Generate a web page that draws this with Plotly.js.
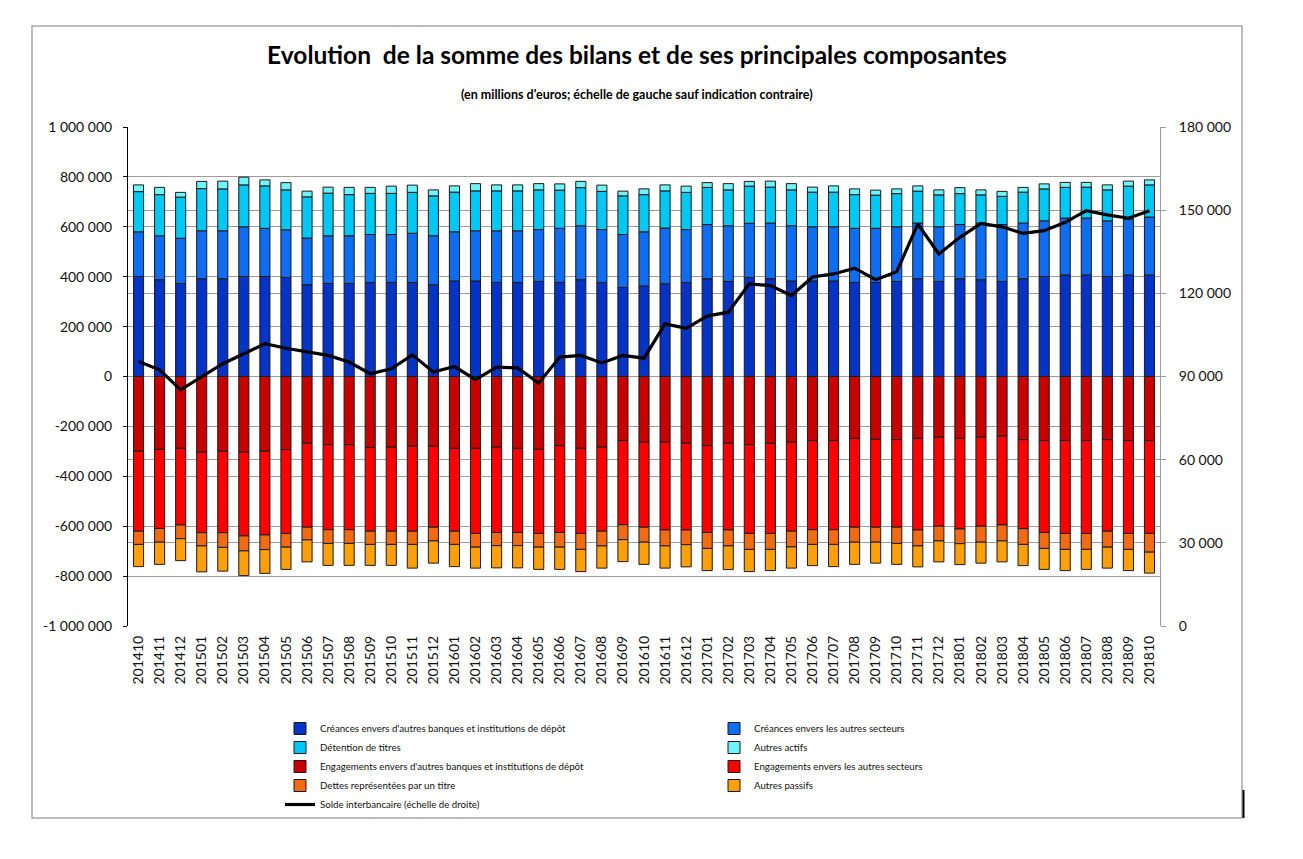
<!DOCTYPE html>
<html>
<head>
<meta charset="utf-8">
<script src="https://cdn.plot.ly/plotly-3.0.1.min.js"></script>
<style>
html,body{margin:0;padding:0;background:#fff;}
#chart{width:1303px;height:859px;}
</style>
</head>
<body>
<div id="chart"></div>
<script>
// ---- Data (millions d'euros) ----
var categories = ["201410","201411","201412","201501","201502","201503","201504","201505","201506","201507","201508","201509","201510","201511","201512","201601","201602","201603","201604","201605","201606","201607","201608","201609","201610","201611","201612","201701","201702","201703","201704","201705","201706","201707","201708","201709","201710","201711","201712","201801","201802","201803","201804","201805","201806","201807","201808","201809","201810"];

var creancesBanques = [401000,388000,373000,392000,392000,401000,401000,397000,368000,373000,373000,377000,377000,377000,368000,383000,383000,377000,377000,381000,377000,388000,377000,357000,363000,372000,377000,392000,381000,397000,392000,383000,383000,383000,377000,377000,381000,392000,381000,392000,388000,381000,392000,401000,407000,407000,401000,407000,407000];
var creancesAutres = [179000,176000,181000,192000,192000,199000,193000,191000,187000,191000,191000,192000,192000,197000,196000,197000,201000,207000,207000,208000,217000,216000,212000,212000,217000,223000,212000,217000,223000,217000,223000,221000,217000,217000,217000,217000,219000,223000,219000,217000,227000,228000,223000,223000,228000,228000,223000,223000,232000];
var detentionTitres = [161000,165000,165000,169000,168000,168000,170000,160000,165000,171000,165000,165000,165000,164000,160000,159000,160000,160000,160000,159000,153000,153000,153000,155000,149000,149000,149000,149000,144000,149000,144000,144000,139000,139000,135000,133000,133000,128000,128000,124000,113000,113000,124000,128000,123000,124000,124000,133000,129000];
var autresActifs = [27000,29000,19000,29000,31000,31000,24000,29000,23000,24000,29000,24000,29000,29000,24000,25000,29000,24000,24000,25000,25000,25000,25000,19000,23000,24000,25000,19000,25000,19000,24000,25000,20000,25000,23000,20000,19000,21000,20000,24000,20000,20000,19000,20000,20000,19000,20000,20000,20000];

var engagementsBanques = [-299000,-292000,-288000,-303000,-299000,-303000,-299000,-293000,-267000,-273000,-273000,-284000,-283000,-279000,-279000,-288000,-288000,-283000,-288000,-292000,-277000,-288000,-283000,-257000,-263000,-263000,-267000,-277000,-267000,-273000,-268000,-263000,-257000,-257000,-248000,-252000,-253000,-248000,-243000,-248000,-243000,-239000,-253000,-257000,-257000,-257000,-253000,-257000,-257000];
var engagementsAutres = [-321000,-317000,-307000,-323000,-327000,-336000,-336000,-336000,-337000,-341000,-341000,-336000,-337000,-341000,-325000,-332000,-341000,-342000,-337000,-337000,-348000,-341000,-337000,-337000,-341000,-352000,-348000,-348000,-348000,-356000,-361000,-357000,-357000,-357000,-356000,-352000,-351000,-367000,-357000,-363000,-357000,-356000,-357000,-368000,-372000,-372000,-367000,-372000,-372000];
var dettesTitre = [-53000,-55000,-55000,-53000,-59000,-60000,-59000,-55000,-51000,-55000,-55000,-53000,-53000,-53000,-55000,-53000,-55000,-53000,-53000,-55000,-59000,-64000,-59000,-60000,-60000,-64000,-59000,-64000,-64000,-64000,-64000,-63000,-59000,-59000,-60000,-60000,-65000,-64000,-59000,-59000,-64000,-64000,-63000,-64000,-64000,-64000,-64000,-64000,-75000];
var autresPassifs = [-89000,-89000,-88000,-104000,-95000,-99000,-95000,-89000,-88000,-88000,-88000,-84000,-84000,-95000,-89000,-89000,-84000,-89000,-89000,-89000,-89000,-89000,-89000,-88000,-89000,-89000,-89000,-89000,-95000,-89000,-85000,-85000,-85000,-89000,-89000,-84000,-84000,-84000,-84000,-84000,-84000,-84000,-85000,-84000,-85000,-80000,-84000,-85000,-84000];

var soldeInterbancaire = [95400,92400,85200,89800,94600,98200,101800,100200,99000,97600,95200,91000,92800,97800,91600,93600,88900,93400,93100,87600,97000,97600,94900,97600,96600,109000,107400,111800,113200,123400,122800,119200,125900,127000,129100,124900,127800,145000,134200,140200,145200,144000,141600,142600,145600,149800,148300,147100,149800];

var leftTickVals = [-1000000,-800000,-600000,-400000,-200000,0,200000,400000,600000,800000,1000000];
var leftTickText = ["-1 000 000","-800 000","-600 000","-400 000","-200 000","0","200 000","400 000","600 000","800 000","1 000 000"];
var rightTickVals = [0,30000,60000,90000,120000,150000,180000];
var rightTickText = ["0","30 000","60 000","90 000","120 000","150 000","180 000"];

var seriesNames = [
  "Créances envers d'autres banques et institutions de dépôt",
  "Créances envers les autres secteurs",
  "Détention de titres",
  "Autres actifs",
  "Engagements envers d'autres banques et institutions de dépôt",
  "Engagements envers les autres secteurs",
  "Dettes représentées par un titre",
  "Autres passifs",
  "Solde interbancaire (échelle de droite)"
];
var seriesColors = ["#0433c6","#0f6df2","#00c8f5","#6ff4fb","#c80000","#ff0000","#f26b12","#ffa00a","#000000"];

// ---- Traces ----
var barSeries = [creancesBanques, creancesAutres, detentionTitres, autresActifs,
                 engagementsBanques, engagementsAutres, dettesTitre, autresPassifs];
var traces = barSeries.map(function(vals, i){
  return {
    type: "bar",
    name: seriesNames[i],
    x: categories,
    y: vals,
    marker: {color: seriesColors[i], line: {color: "#1a1a1a", width: 1}},
    hoverinfo: "x+y+name"
  };
});
traces.push({
  type: "scatter",
  mode: "lines",
  name: seriesNames[8],
  x: categories,
  y: soldeInterbancaire,
  yaxis: "y2",
  line: {color: "#000000", width: 3.2}
});

// helpers to place frame in paper coordinates
var L = 128, R = 1160, T = 127, B = 626;
function px(x){ return (x - L) / (R - L); }
function py(y){ return (B - y) / (B - T); }

var tickFont = {family: "Lato, 'Open Sans', sans-serif", size: 14, color: "#111"};

var layout = {
  width: 1303, height: 859,
  margin: {l: L, r: 1303 - R, t: T, b: 859 - B, pad: 0},
  paper_bgcolor: "#ffffff",
  plot_bgcolor: "rgba(0,0,0,0)",
  barmode: "relative",
  bargap: 0.52,
  showlegend: true,
  font: {family: "Lato, 'Open Sans', sans-serif", color: "#111"},
  title: {
    text: "<b>Evolution  de la somme des bilans et de ses principales composantes</b>",
    font: {family: "Lato, 'Open Sans', sans-serif", size: 24.5, color: "#000"},
    xref: "container", x: 637 / 1303, xanchor: "center",
    yref: "container", y: 1 - 55 / 859, yanchor: "middle"
  },
  xaxis: {
    type: "category",
    tickangle: -90,
    tickfont: tickFont,
    showgrid: false,
    showline: false,
    zeroline: false,
    ticks: "",
    ticklabelstandoff: 6,
    fixedrange: true
  },
  yaxis: {
    range: [-1000000, 1000000],
    tickvals: leftTickVals,
    ticktext: leftTickText,
    tickfont: tickFont,
    showgrid: true,
    gridcolor: "#9c9c9c",
    gridwidth: 1,
    zeroline: true,
    zerolinecolor: "#9c9c9c",
    zerolinewidth: 1,
    showline: true,
    linecolor: "#000000",
    linewidth: 1,
    ticks: "outside",
    ticklen: 4,
    tickcolor: "#000000",
    ticklabelstandoff: 8,
    fixedrange: true
  },
  yaxis2: {
    overlaying: "y",
    side: "right",
    range: [0, 180000],
    tickvals: rightTickVals,
    ticktext: rightTickText,
    tickfont: tickFont,
    showgrid: true,
    gridcolor: "#9c9c9c",
    gridwidth: 1,
    zeroline: false,
    showline: true,
    linecolor: "#9c9c9c",
    linewidth: 1,
    ticks: "outside",
    ticklen: 5,
    tickcolor: "#9c9c9c",
    ticklabelstandoff: 10,
    fixedrange: true
  },
  legend: {
    orientation: "h",
    x: px(280), xanchor: "left",
    y: py(714), yanchor: "top",
    entrywidth: 389, entrywidthmode: "pixels",
    font: {family: "Lato, 'Open Sans', sans-serif", size: 9.7, color: "#111"},
    bgcolor: "rgba(0,0,0,0)",
    traceorder: "normal"
  },
  annotations: [{
    xref: "paper", yref: "paper",
    x: px(637), y: py(95),
    xanchor: "center", yanchor: "middle",
    text: "<b>(en millions d'euros; échelle de gauche sauf indication contraire)</b>",
    showarrow: false,
    font: {family: "Lato, 'Open Sans', sans-serif", size: 12.5, color: "#000"}
  }],
  shapes: [{
    type: "rect", xref: "paper", yref: "paper",
    x0: px(32), x1: px(1242), y0: py(818), y1: py(26),
    line: {color: "#a6a6a6", width: 1.5}, fillcolor: "rgba(0,0,0,0)", layer: "below"
  }, {
    type: "line", xref: "paper", yref: "paper",
    x0: px(1243.5), x1: px(1243.5), y0: py(790), y1: py(818),
    line: {color: "#000000", width: 2}
  }]
};

Plotly.newPlot("chart", traces, layout, {displayModeBar: false, staticPlot: true});
</script>
</body>
</html>
